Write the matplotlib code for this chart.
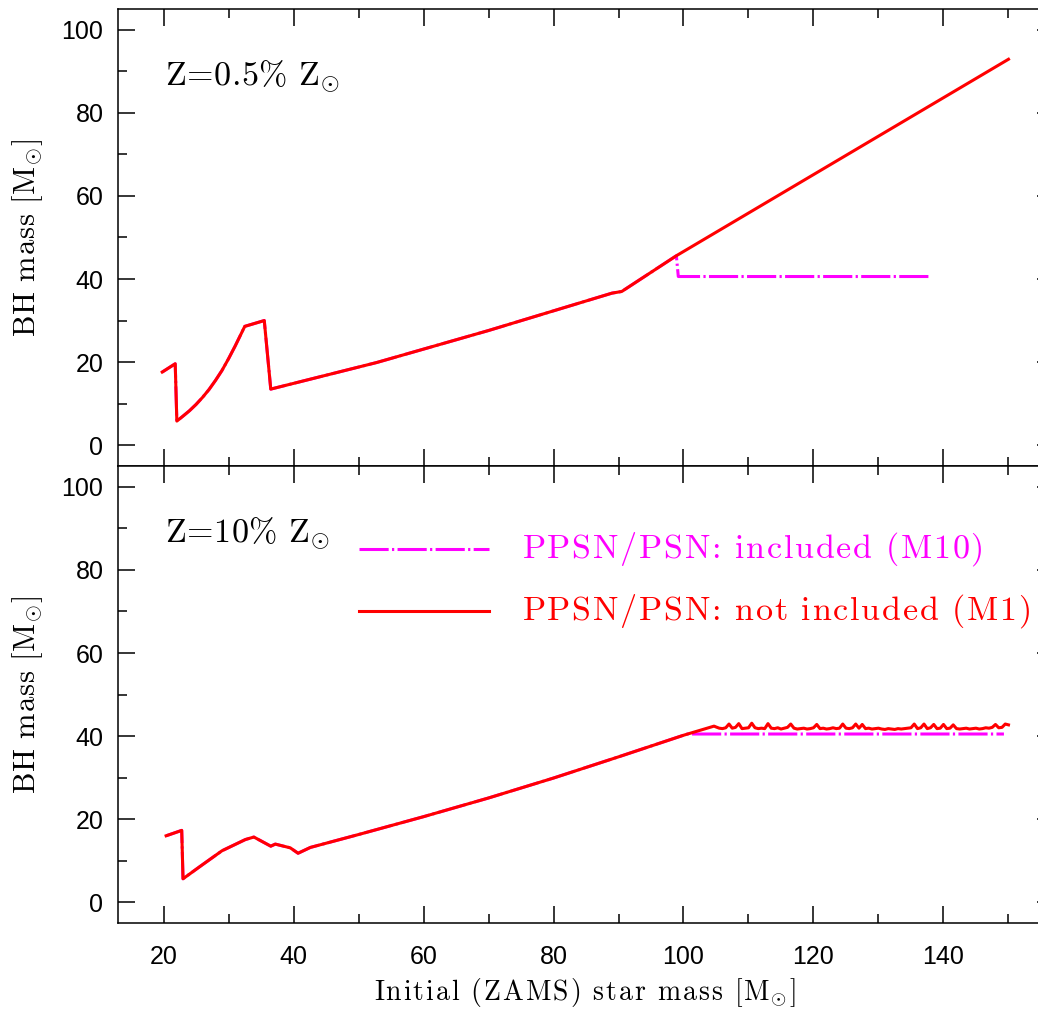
import matplotlib
matplotlib.use("Agg")
import matplotlib.pyplot as plt
from matplotlib.ticker import MultipleLocator

# --- data -----------------------------------------------------------------
# Z = 0.5% Zsun, model without PPSN/PSN (M1)
top_m1_mass = [19.8, 21.8, 22.05, 23.0, 24.0, 25.0, 26.0, 27.0, 28.0, 29.0,
               30.0, 31.0, 32.0, 32.5, 35.5, 36.5, 52.8, 70.0, 89.0, 90.5,
               98.9, 150.0]
top_m1_bh = [17.6, 19.6, 5.8, 7.0, 8.3, 9.8, 11.5, 13.4, 15.6, 18.0,
             20.8, 23.8, 27.0, 28.6, 30.0, 13.5, 19.9, 27.6, 36.6, 37.0,
             45.6, 92.9]
# Z = 0.5% Zsun, model with PPSN/PSN (M10)
top_m10_mass = [19.8, 21.8, 22.05, 23.0, 24.0, 25.0, 26.0, 27.0, 28.0, 29.0,
                30.0, 31.0, 32.0, 32.5, 35.5, 36.5, 52.8, 70.0, 89.0, 90.5,
                98.9, 99.2, 138.0]
top_m10_bh = [17.6, 19.6, 5.8, 7.0, 8.3, 9.8, 11.5, 13.4, 15.6, 18.0,
              20.8, 23.8, 27.0, 28.6, 30.0, 13.5, 19.9, 27.6, 36.6, 37.0,
              45.6, 40.6, 40.6]

# Z = 10% Zsun, M1 (the high mass end wiggles around 42)
bot_m1_mass = [20.4, 22.8, 23.0, 25.6, 29.0, 32.6, 33.9, 36.5, 37.2, 39.5,
               40.7, 42.6, 50.0, 60.0, 70.0, 80.0, 90.0, 100.0, 104.7,
               105.0, 105.5, 106.0, 106.5, 107.0, 107.5, 108.0, 108.5, 109.0, 109.5,
               110.0, 110.5, 111.0, 111.5, 112.0, 112.5, 113.0, 113.5, 114.0, 114.5,
               115.0, 115.5, 116.0, 116.5, 117.0, 117.5, 118.0, 118.5, 119.0, 119.5,
               120.0, 120.5, 121.0, 121.5, 122.0, 122.5, 123.0, 123.5, 124.0, 124.5,
               125.0, 125.5, 126.0, 126.5, 127.0, 127.5, 128.0, 128.5, 129.0, 129.5,
               130.0, 130.5, 131.0, 131.5, 132.0, 132.5, 133.0, 133.5, 134.0, 134.5,
               135.0, 135.5, 136.0, 136.5, 137.0, 137.5, 138.0, 138.5, 139.0, 139.5,
               140.0, 140.5, 141.0, 141.5, 142.0, 142.5, 143.0, 143.5, 144.0, 144.5,
               145.0, 145.5, 146.0, 146.5, 147.0, 147.5, 148.0, 148.5, 149.0, 149.5,
               150.0]
bot_m1_bh = [16.0, 17.3, 5.65, 8.6, 12.4, 15.1, 15.7, 13.5, 14.0, 13.1,
             11.8, 13.2, 16.3, 20.6, 25.1, 29.9, 35.0, 40.2, 42.4,
             42.2, 41.9, 41.8, 42.0, 42.9, 41.9, 42.1, 43.0, 41.8, 41.9,
             42.0, 43.1, 42.0, 41.8, 41.9, 41.8, 43.0, 41.9, 41.8, 42.0,
             41.7, 41.9, 42.1, 42.9, 41.9, 41.7, 41.8, 41.9, 41.7, 41.8,
             42.0, 42.8, 41.8, 41.9, 41.7, 41.8, 42.0, 41.8, 41.9, 42.9,
             41.9, 41.8, 42.0, 42.9, 41.9, 42.8, 41.8, 41.9, 41.7, 41.8,
             41.9, 41.7, 41.6, 41.8, 41.7, 41.6, 41.8, 41.7, 41.8, 41.9,
             42.0, 42.9, 41.8, 42.0, 42.9, 41.8, 42.0, 42.8, 41.8, 41.9,
             42.8, 41.8, 41.9, 42.7, 41.8, 41.7, 41.8, 41.9, 41.7, 41.8,
             41.9, 41.7, 41.8, 42.0, 41.9, 42.1, 42.8, 42.0, 42.1, 42.9,
             42.7]
# Z = 10% Zsun, M10
bot_m10_mass = [20.4, 22.8, 23.0, 25.6, 29.0, 32.6, 33.9, 36.5, 37.2, 39.5,
                40.7, 42.6, 50.0, 60.0, 70.0, 80.0, 90.0, 100.0, 100.6, 149.3]
bot_m10_bh = [16.0, 17.3, 5.65, 8.6, 12.4, 15.1, 15.7, 13.5, 14.0, 13.1,
              11.8, 13.2, 16.3, 20.6, 25.1, 29.9, 35.0, 40.2, 40.5, 40.5]

panel_labels = ["Z=0.5% Z@", "Z=10% Z@"]
legend_labels = ["PPSN/PSN: included (M10)", "PPSN/PSN: not included (M1)"]

RED = "#ff0000"
MAGENTA = "#ff00ff"
DASHDOT = (21, 2.4, 1.6, 2.4)

plt.rcParams["mathtext.fontset"] = "cm"
plt.rcParams["lines.scale_dashes"] = False
plt.rcParams["font.family"] = ["Liberation Sans", "DejaVu Sans"]


def sm(s, track=0.0):
    # SM style label: cm letters spread out a bit, '@' puts a sun subscript
    # on the character before it
    parts = []
    for c in s:
        if c == "@":
            parts[-1] = r"\mathrm{%s}_{\odot}" % prev
        elif c == " ":
            parts.append(r"\ ")
        else:
            parts.append(r"\text{%s}" % c)
        prev = c
    return "$" + (r"\hspace{%.3f}" % track).join(parts) + "$"


fig = plt.figure(figsize=(10.38, 10.09), dpi=100)
ax_top = fig.add_axes([0.1137, 0.5382, 0.9017, 0.4529])
ax_bot = fig.add_axes([0.1137, 0.0852, 0.9017, 0.4529])

for ax in (ax_top, ax_bot):
    ax.set_xlim(13, 157)
    ax.set_ylim(-5, 105)
    ax.xaxis.set_major_locator(MultipleLocator(20))
    ax.xaxis.set_minor_locator(MultipleLocator(10))
    ax.yaxis.set_major_locator(MultipleLocator(20))
    ax.yaxis.set_minor_locator(MultipleLocator(10))
    ax.tick_params(which="both", direction="in", top=True, right=True,
                   width=1.1, labelsize=18)
    ax.tick_params(which="major", length=12)
    ax.tick_params(which="minor", length=6.5)
    ax.tick_params(axis="y", pad=10.5)
    ax.tick_params(axis="x", pad=16)
    for sp in ax.spines.values():
        sp.set_linewidth(1.1)
    ax.set_ylabel(sm("BH mass [M@]", 0.03), fontsize=22)
    ax.yaxis.set_label_coords(-0.078, 0.5)

ax_top.tick_params(labelbottom=False)

ax_top.plot(top_m10_mass, top_m10_bh, color=MAGENTA, lw=2.2, dashes=DASHDOT)
ax_top.plot(top_m1_mass, top_m1_bh, color=RED, lw=2.2)
ax_bot.plot(bot_m10_mass, bot_m10_bh, color=MAGENTA, lw=2.2, dashes=DASHDOT)
ax_bot.plot(bot_m1_mass, bot_m1_bh, color=RED, lw=2.2)

for ax, lab in zip((ax_top, ax_bot), panel_labels):
    ax.text(20.2, 86.7, sm(lab, 0.02), fontsize=24.5, ha="left", va="baseline")

# hand-drawn legend, SM style
ax_bot.plot([50, 70], [85, 85], color=MAGENTA, lw=2.2, dashes=DASHDOT)
ax_bot.plot([50, 70], [70, 70], color=RED, lw=2.2)
ax_bot.text(75.2, 85, sm(legend_labels[0], 0.06), color=MAGENTA, fontsize=24.5,
            ha="left", va="center")
ax_bot.text(75.2, 70, sm(legend_labels[1], 0.06), color=RED, fontsize=24.5,
            ha="left", va="center")

fig.text(0.5636, 0.009, sm("Initial (ZAMS) star mass [M@]", 0.08), fontsize=20,
         ha="center", va="baseline")

fig.savefig("out.png", dpi=100)
